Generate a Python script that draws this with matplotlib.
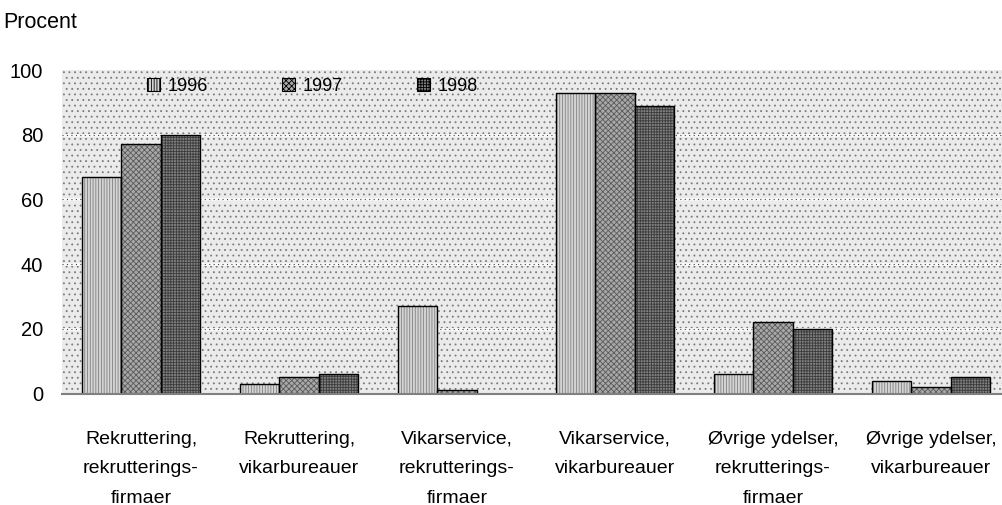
import matplotlib
matplotlib.use("Agg")
import matplotlib.pyplot as plt
from matplotlib.patches import Rectangle, Patch
import numpy as np

categories = ["Rekruttering,\nrekrutterings-\nfirmaer",
              "Rekruttering,\nvikarbureauer",
              "Vikarservice,\nrekrutterings-\nfirmaer",
              "Vikarservice,\nvikarbureauer",
              "Øvrige ydelser,\nrekrutterings-\nfirmaer",
              "Øvrige ydelser,\nvikarbureauer"]
years = ["1996", "1997", "1998"]
v1996 = [67, 3, 27, 93, 6, 4]
v1997 = [77, 5, 1, 93, 22, 2]
v1998 = [80, 6, 0, 89, 20, 5]
yticks = [0, 20, 40, 60, 80, 100]

plt.rcParams['font.family'] = ['Liberation Sans', 'DejaVu Sans']
plt.rcParams['hatch.linewidth'] = 0.6

fig = plt.figure(figsize=(10.02, 5.05), dpi=100)
W, H = 1002, 505
ax = fig.add_axes([62 / W, (505 - 393.5) / H, 948 / W, (393.5 - 70) / H])
ax.set_xlim(-0.5, 5.5)
ax.set_ylim(0, 100)

# stippled background
ax.set_facecolor('#e8e8e8')
bg = Rectangle((0, 0), 1, 1, transform=ax.transAxes, facecolor='#ebebeb',
               edgecolor='#7a7a7a', hatch='...', linewidth=0, zorder=0)
ax.add_patch(bg)
for yv in yticks[1:-1]:
    ax.axhline(yv, color='#fafafa', lw=2.0, zorder=0.5)
    ax.axhline(yv, color='#444444', lw=0.8, ls=(0, (1, 3)), zorder=0.6)

x = np.arange(len(categories))
w = 0.25
series = [v1996, v1997, v1998]
faces = ['#d4d4d4', '#a8a8a8', '#808080']
hatch_cols = ['#808080', '#5a5a5a', '#3c3c3c']
hatches = ['||||||', 'xxxxxx', '++++++']
for i, (vals, fc, hc, hp) in enumerate(zip(series, faces, hatch_cols, hatches)):
    xs = x + (i - 1) * w
    ax.bar(xs, vals, width=w, color=fc, edgecolor=hc, hatch=hp, linewidth=0, zorder=2)
    ax.bar(xs, vals, width=w, fill=False, edgecolor='black', linewidth=1.0, zorder=3)

for s in ['top', 'right', 'left']:
    ax.spines[s].set_visible(False)
ax.spines['bottom'].set_color('#808080')
ax.spines['bottom'].set_linewidth(1.5)
ax.spines['bottom'].set_zorder(4)

ax.set_yticks(yticks)
ax.set_yticklabels([str(t) for t in yticks], fontsize=14.5)
ax.tick_params(axis='y', length=0, pad=13.5)
ax.set_xticks(x)
ax.set_xticklabels(categories, fontsize=14, linespacing=1.95)
ax.tick_params(axis='x', length=0, pad=27)

fig.text(3 / W, 1 - 22 / H, "Procent", fontsize=15.5, va='center', ha='left')

handles = [Patch(facecolor=fc, edgecolor='black', hatch=hp, linewidth=0.8)
           for fc, hp in zip(faces, hatches)]
leg = ax.legend(handles, years, ncol=3, frameon=False, fontsize=13,
                loc='upper left', bbox_to_anchor=((147 - 62) / 948, 0.975),
                handlelength=0.7, handleheight=0.7, handletextpad=0.45,
                columnspacing=4.1, borderpad=0, borderaxespad=0)

fig.savefig("out.png", dpi=100)
